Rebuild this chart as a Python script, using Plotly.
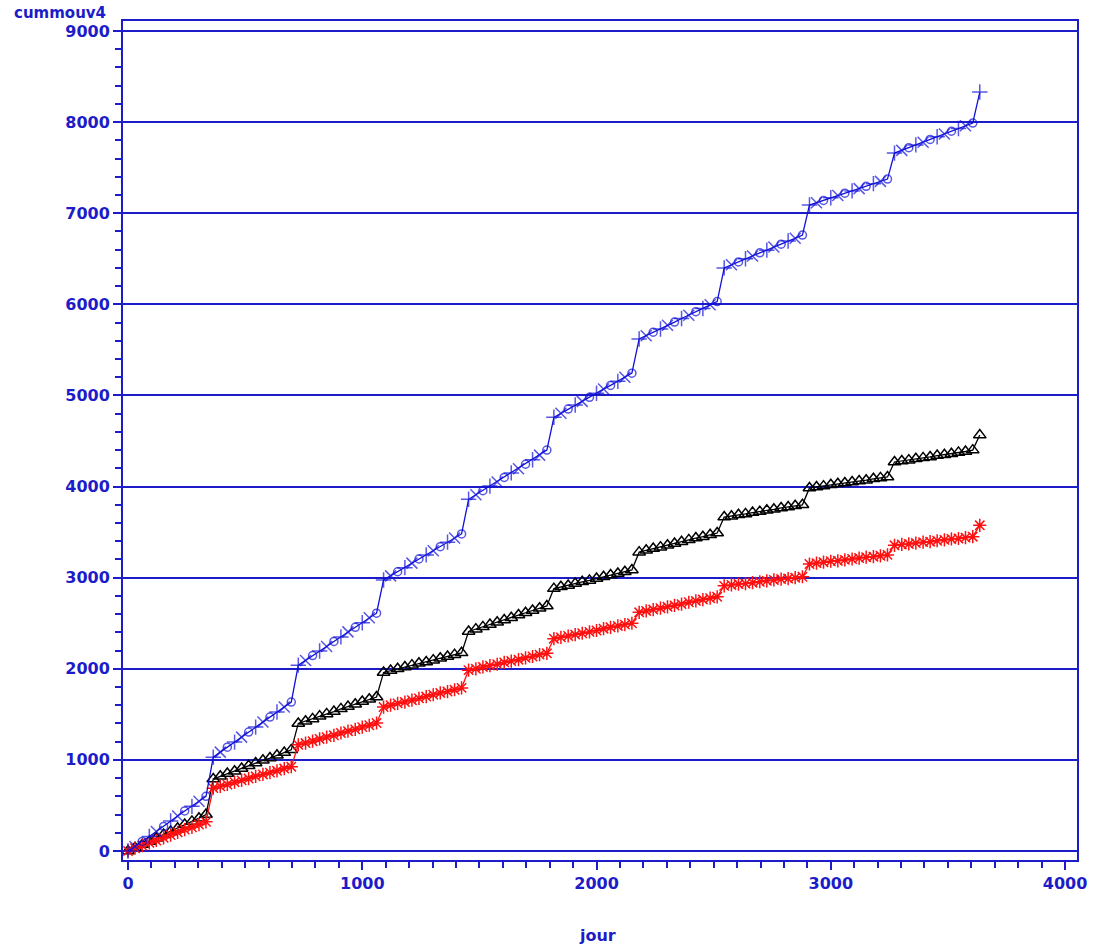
import plotly.graph_objects as go

# Day of each observation (roughly monthly)
jour = [0, 30, 61, 91, 121, 152, 182, 212, 242, 273, 303, 333,
        364, 394, 424, 455, 485, 515, 545, 576, 606, 636, 667, 697,
        727, 758, 788, 818, 848, 879, 909, 939, 970, 1000, 1030, 1061,
        1091, 1121, 1151, 1182, 1212, 1242, 1273, 1303, 1333, 1364, 1394, 1424,
        1454, 1485, 1515, 1545, 1576, 1606, 1636, 1667, 1697, 1727, 1757, 1788,
        1818, 1848, 1879, 1909, 1939, 1970, 2000, 2030, 2060, 2091, 2121, 2151,
        2182, 2212, 2242, 2273, 2303, 2333, 2363, 2394, 2424, 2454, 2485, 2515,
        2545, 2576, 2606, 2636, 2666, 2697, 2727, 2757, 2788, 2818, 2848, 2879,
        2909, 2939, 2969, 3000, 3030, 3060, 3091, 3121, 3151, 3182, 3212, 3242,
        3272, 3303, 3333, 3363, 3394, 3424, 3454, 3485, 3515, 3545, 3575, 3606,
        3636]

serie_bleue = [0, 50, 105, 160, 215, 270, 330, 385, 440, 490, 545, 600,
               1030, 1085, 1140, 1195, 1250, 1305, 1360, 1415, 1470, 1525, 1580, 1635,
               2040, 2090, 2145, 2195, 2245, 2300, 2350, 2405, 2455, 2505, 2560, 2610,
               2975, 3020, 3065, 3110, 3160, 3205, 3250, 3295, 3340, 3390, 3435, 3480,
               3860, 3910, 3955, 4005, 4050, 4100, 4150, 4195, 4245, 4295, 4345, 4400,
               4760, 4805, 4850, 4895, 4935, 4980, 5025, 5070, 5110, 5155, 5200, 5245,
               5620, 5655, 5695, 5730, 5770, 5805, 5845, 5880, 5920, 5955, 5995, 6030,
               6400, 6435, 6465, 6500, 6530, 6565, 6595, 6630, 6660, 6695, 6725, 6760,
               7090, 7115, 7140, 7170, 7195, 7220, 7245, 7270, 7295, 7325, 7350, 7375,
               7660, 7690, 7720, 7750, 7780, 7810, 7840, 7870, 7900, 7930, 7960, 7990,
               8330]

serie_noire = [0, 35, 70, 105, 140, 180, 215, 250, 290, 325, 360, 400,
               790, 820, 850, 875, 905, 935, 965, 995, 1020, 1050, 1080, 1110,
               1400, 1425, 1450, 1480, 1505, 1530, 1560, 1585, 1610, 1640, 1665, 1690,
               1960, 1980, 2000, 2020, 2040, 2060, 2075, 2095, 2115, 2135, 2155, 2175,
               2410, 2435, 2460, 2485, 2510, 2535, 2560, 2590, 2615, 2640, 2665, 2690,
               2880, 2900, 2915, 2935, 2955, 2970, 2990, 3010, 3030, 3045, 3065, 3085,
               3280, 3300, 3320, 3335, 3355, 3375, 3395, 3415, 3435, 3450, 3470, 3490,
               3665, 3675, 3690, 3700, 3715, 3725, 3740, 3750, 3765, 3775, 3790, 3800,
               3985, 3995, 4005, 4020, 4030, 4040, 4050, 4060, 4070, 4085, 4095, 4105,
               4270, 4280, 4290, 4305, 4315, 4325, 4340, 4350, 4360, 4375, 4385, 4400,
               4565]

serie_rouge = [0, 30, 60, 90, 115, 145, 175, 205, 235, 260, 290, 320,
               690, 710, 730, 755, 775, 795, 820, 840, 860, 880, 905, 925,
               1165, 1185, 1205, 1230, 1250, 1270, 1295, 1315, 1335, 1360, 1380, 1405,
               1580, 1600, 1620, 1635, 1655, 1675, 1695, 1715, 1735, 1750, 1770, 1790,
               1985, 2000, 2020, 2035, 2050, 2070, 2085, 2100, 2120, 2135, 2155, 2170,
               2330, 2345, 2360, 2375, 2390, 2405, 2420, 2440, 2455, 2470, 2485, 2500,
               2620, 2635, 2650, 2665, 2680, 2695, 2710, 2730, 2745, 2760, 2775, 2790,
               2910, 2920, 2930, 2935, 2945, 2955, 2965, 2975, 2985, 2990, 3000, 3010,
               3150, 3160, 3170, 3180, 3185, 3195, 3205, 3215, 3225, 3230, 3240, 3250,
               3355, 3365, 3370, 3380, 3390, 3395, 3405, 3415, 3425, 3430, 3440, 3450,
               3575]

y_ticks = [0, 1000, 2000, 3000, 4000, 5000, 6000, 7000, 8000, 9000]
x_ticks = [0, 1000, 2000, 3000, 4000]

AX = "#1c1cc8"
FONT = "DejaVu Sans"

blue_symbols = ["cross-thin-open", "x-thin-open", "circle-open"]

fig = go.Figure()
fig.add_trace(go.Scatter(
    x=jour, y=serie_noire, mode="lines+markers",
    line=dict(color="black", width=1.3),
    marker=dict(symbol="triangle-up-open", size=11, color="black",
                line=dict(width=1.5, color="black")),
    showlegend=False))
fig.add_trace(go.Scatter(
    x=jour, y=serie_rouge, mode="lines+markers",
    line=dict(color="#ff1010", width=1.3),
    marker=dict(symbol="asterisk-open", size=11, color="#ff1010",
                line=dict(width=1.5, color="#ff1010")),
    showlegend=False))
fig.add_trace(go.Scatter(
    x=jour, y=serie_bleue, mode="lines+markers",
    line=dict(color="#1010d8", width=1.3),
    marker=dict(symbol=[blue_symbols[i % 3] for i in range(len(jour))],
                size=[11 if i % 3 < 2 else 8 for i in range(len(jour))],
                color="#1010d8",
                line=dict(width=1.5, color="#1010d8")),
    showlegend=False))

fig.update_layout(
    width=1099, height=946,
    margin=dict(l=123, r=19, t=21, b=86),
    paper_bgcolor="white", plot_bgcolor="white",
    font=dict(family=FONT, color=AX),
    xaxis=dict(
        range=[-21.3, 4051], tickvals=x_ticks, ticktext=[str(v) for v in x_ticks],
        showgrid=False, zeroline=False,
        showline=True, mirror=True, linecolor=AX, linewidth=2,
        ticks="outside", ticklen=8, tickwidth=2, tickcolor=AX,
        tickfont=dict(family=FONT, size=16, color=AX, weight="bold"),
        minor=dict(dtick=100, tick0=0, ticks="outside", ticklen=6,
                   tickwidth=2, tickcolor=AX, showgrid=False),
    ),
    yaxis=dict(
        range=[-98.8, 9110], tickvals=y_ticks, ticktext=[str(v) for v in y_ticks],
        showgrid=True, gridcolor=AX, gridwidth=2, zeroline=False,
        showline=True, mirror=True, linecolor=AX, linewidth=2,
        ticks="outside", ticklen=8, tickwidth=2, tickcolor=AX,
        tickfont=dict(family=FONT, size=16, color=AX, weight="bold"),
        minor=dict(dtick=200, tick0=0, ticks="outside", ticklen=6,
                   tickwidth=2, tickcolor=AX, showgrid=False),
    ),
    annotations=[
        dict(text="cummouv4", xref="paper", yref="paper",
             x=(60 - 123) / 957, y=(860 - 13) / 839,
             xanchor="center", yanchor="middle", showarrow=False,
             font=dict(family=FONT, size=15, color=AX, weight="bold")),
        dict(text="jour", xref="paper", yref="paper",
             x=(599 - 123) / 957, y=(860 - 936) / 839,
             xanchor="center", yanchor="middle", showarrow=False,
             font=dict(family=FONT, size=16, color=AX, weight="bold")),
    ],
)

fig.write_html("out.html")
